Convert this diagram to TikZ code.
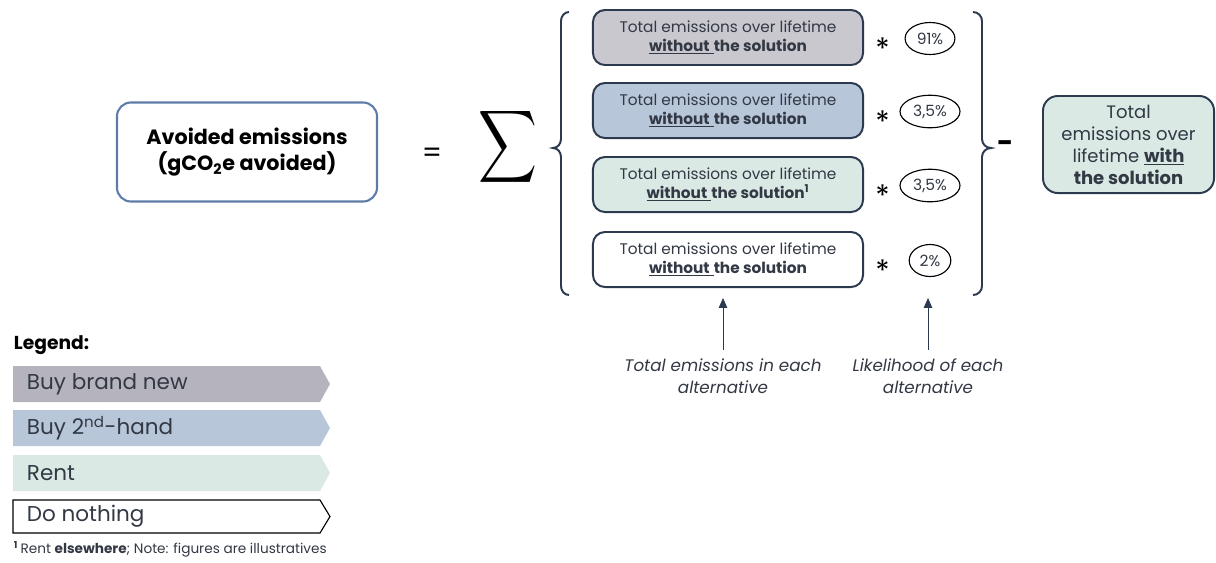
\documentclass[tikz,border=0pt]{standalone}
\usepackage{amsmath}
\usepackage{fontspec}
\setmainfont{Poppins}
\usepackage{tikz}
\usetikzlibrary{positioning, shapes.geometric, arrows.meta}
\tikzstyle{pixelPlane} = [x = 0.025cm, y = -0.025cm]
\definecolor{navyLine}{RGB}{44,58,79}
\definecolor{steelLine}{RGB}{93,124,166}
\definecolor{textGrey}{RGB}{50,56,68}
\definecolor{greyFill}{RGB}{201,200,206}
\definecolor{blueFill}{RGB}{184,198,217}
\definecolor{greenFill}{RGB}{218,233,227}
\definecolor{legendGrey}{RGB}{181,180,188}
\tikzstyle{altBox} = [rectangle, draw=navyLine, line width=1.4pt, rounded corners = .3cm, minimum width = 6.75cm, minimum height = 1.375cm, align=center, text=textGrey, font=\fontsize{10.9}{13.5}\selectfont]
\tikzstyle{shareEllipse} = [ellipse, draw=black, line width=.8pt, inner xsep=.11cm, minimum height=.8cm, font=\fontsize{11}{12}\selectfont, text=textGrey]
\tikzstyle{starText} = [font=\fontsize{21}{21}\selectfont, text=black, inner sep=0pt]
\tikzstyle{braceLine} = [draw=navyLine, line width=1.4pt]
\tikzstyle{pointerArrow} = [draw=navyLine, line width=.6pt, -{Triangle[width=6pt,length=7pt]}]
\tikzstyle{pointerText} = [align=center, font=\fontsize{11.9}{15.6}\selectfont\itshape, text=textGrey]
\tikzstyle{legendBar} = [draw=none]
\tikzstyle{legendText} = [anchor=west, font=\fontsize{15.3}{16}\selectfont, text=textGrey]
\newcommand{\withoutText}[1]{Total emissions over lifetime\\ \underline{\textbf{without}\ }\textbf{the solution}#1}
\newcommand{\alternativeRow}[5]{
  \node [altBox, fill=#3] (box#1) at (728,#2) {\withoutText{#5}};
  \node [starText] (star#1) at (882.5,#2+11) {*};
  \node [shareEllipse] (share#1) at (930,#2+1) {#4};
}
\newcommand{\legendEntry}[4]{
  \filldraw [legendBar, #3] (13,#2) -- (320,#2) -- (330,#2+18) -- (320,#2+36) -- (13,#2+36) -- cycle;
  \node [legendText] (legend#1) at (22,#2+18) {#4};
}

\begin{document}
\begin{tikzpicture}[pixelPlane]
  \useasboundingbox (0,0) rectangle (1216,562);

  % left side of the equation
  \node [rectangle, draw=steelLine, line width=1.5pt, rounded corners = .35cm, minimum width = 6.5cm, minimum height = 2.475cm, align=center, font=\fontsize{14.7}{18.5}\selectfont\bfseries] (avoided) at (247,152) {Avoided emissions\\(gCO\textsubscript{2}e avoided)};
  \node [font=\fontsize{20}{20}\selectfont] (equalSign) at (432,155) {=};
  \node [inner sep=0pt] (sumSign) at (508,147) {\scalebox{2.9}[3.6]{$\displaystyle\sum$}};

  % the four alternatives
  \alternativeRow{BrandNew}{37.5}{greyFill}{91\%}{}
  \alternativeRow{SecondHand}{110.5}{blueFill}{3,5\%}{}
  \alternativeRow{Rent}{184.5}{greenFill}{3,5\%}{\textsuperscript{\textbf{1}}}
  \alternativeRow{Nothing}{259.5}{white}{2\%}{}

  % braces
  \draw [braceLine] (569,12) to[out=180,in=90] (561,21) -- (561,139) to[out=-90,in=0] (553,148) to[out=0,in=90] (561,157) -- (561,286) to[out=-90,in=180] (569,295);
  \draw [braceLine] (973,12) to[out=0,in=90] (982,21) -- (982,139) to[out=-90,in=180] (991,148) to[out=180,in=90] (982,157) -- (982,286) to[out=-90,in=0] (973,295);

  % right side of the equation
  \node [font=\fontsize{20}{20}\selectfont\bfseries] (minusSign) at (1006,147) {-};
  \node [rectangle, draw=navyLine, fill=greenFill, line width=1.4pt, rounded corners = .37cm, minimum width = 4.275cm, minimum height = 2.425cm, align=center, text=textGrey, font=\fontsize{12.8}{15.6}\selectfont] (withBox) at (1128.5,144.5) {Total\\emissions over\\lifetime \underline{\textbf{with}}\\\textbf{the solution}};

  % pointers
  \coordinate (tipTotal) at (723,298);
  \coordinate (tipLikely) at (928,298);
  \node [pointerText] (totalText) at (723,376) {Total emissions in each\\alternative};
  \node [pointerText] (likelyText) at (928,376) {Likelihood of each\\alternative};
  \draw [pointerArrow] (totalText.north) ++(0,-4) -- (tipTotal);
  \draw [pointerArrow] (likelyText.north) ++(0,-4) -- (tipLikely);

  % legend
  \node [anchor=west, font=\fontsize{13.3}{14}\selectfont\bfseries] (legendTitle) at (9,345) {Legend:};
  \legendEntry{BrandNew}{366}{fill=legendGrey}{Buy brand new}
  \legendEntry{SecondHand}{410}{fill=blueFill}{Buy 2\textsuperscript{nd}-hand}
  \legendEntry{Rent}{455}{fill=greenFill}{Rent}
  \filldraw [draw=black, fill=white, line width=.8pt] (13,500) -- (320,500) -- (330,516.5) -- (320,533) -- (13,533) -- cycle;
  \node [legendText] (legendNothing) at (22,516.5) {Do nothing};
  \node [anchor=west, font=\fontsize{9.7}{11}\selectfont, text=textGrey] (footNote) at (9,549) {\textsuperscript{\textbf{1}}\,Rent \textbf{elsewhere}; Note: figures are illustratives};
\end{tikzpicture}
\end{document}
